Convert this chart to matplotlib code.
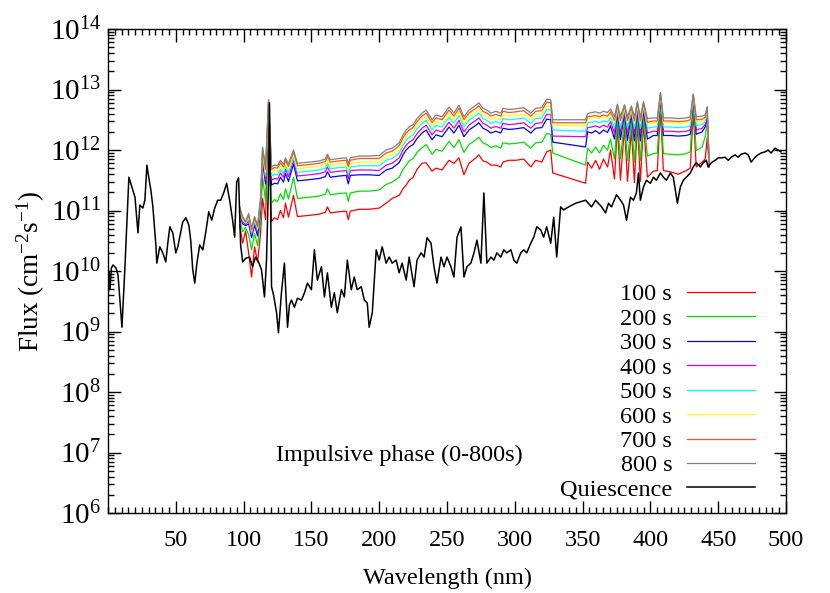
import numpy as np
import matplotlib
matplotlib.use("Agg")
import matplotlib.pyplot as plt
from matplotlib.ticker import MultipleLocator, LogLocator, NullFormatter, FixedLocator

# Quiescent spectrum: wavelength (nm) and log10 flux (cm^-2 s^-1)
q_wl = [0.0, 0.8, 1.5, 2.5, 3.7, 5.9, 7.4, 10.3, 12.5, 14.7, 15.4, 17.6, 19.9, 22.1, 23.5,
        25.7, 27.2, 28.7, 30.1, 31.6, 33.1, 35.3, 36.0, 38.2, 40.4, 42.6, 44.1, 45.6, 47.8,
        50.0, 51.5, 52.9, 55.1, 57.4, 59.6, 61.0, 62.5, 64.0, 65.4, 67.6, 69.9, 72.1, 74.3,
        76.5, 78.7, 80.9, 83.1, 85.3, 87.5, 89.7, 91.9, 93.4, 94.9, 96.3, 97.8, 99.3, 101.5,
        104.4, 106.6, 108.8, 111.0, 113.2, 115.4, 116.9, 118.4, 119.1, 120.6, 122.1, 124.3,
        125.7, 127.9, 130.1, 132.4, 133.8, 135.3, 137.5, 139.7, 142.7, 144.9, 147.1, 150.0,
        152.2, 154.4, 157.4, 159.6, 161.8, 164.7, 166.9, 169.1, 172.1, 174.3, 176.5, 179.4,
        181.6, 183.8, 186.8, 189.0, 191.2, 192.6, 194.9, 197.8, 200.0, 202.2, 205.1, 207.4,
        209.6, 212.5, 214.7, 216.9, 219.9, 222.1, 225.7, 227.9, 230.9, 233.1, 235.3, 238.2,
        240.4, 242.6, 245.6, 247.8, 250.0, 252.9, 255.1, 257.4, 260.3, 262.5, 264.7, 267.6,
        269.9, 272.1, 275.0, 277.2, 279.4, 282.4, 284.6, 286.8, 289.7, 291.9, 294.1, 297.1,
        299.3, 301.5, 304.4, 306.6, 308.8, 311.8, 314.0, 316.2, 319.1, 321.3, 323.5, 326.5,
        328.7, 330.9, 333.8, 336.0, 339.7, 344.9, 352.2, 356.6, 359.6, 364.0, 366.9, 369.1,
        371.3, 375.0, 378.0, 380.2, 382.4, 385.3, 387.5, 389.7, 391.2, 392.6, 394.9, 397.1,
        400.0, 402.2, 404.4, 407.4, 409.6, 411.8, 414.7, 416.9, 419.9, 422.1, 424.3, 426.5,
        429.4, 431.6, 433.8, 436.8, 439.0, 441.2, 442.6, 444.9, 447.8, 450.0, 452.2, 455.1,
        457.4, 459.6, 462.5, 464.7, 466.9, 469.9, 472.1, 474.3, 477.2, 479.4, 481.6, 484.6,
        486.8, 489.0, 491.9, 494.1, 496.3]
q_log = [9.45, 10.00, 9.70, 10.05, 10.10, 10.05, 9.93, 9.07, 10.07, 11.17, 11.55, 11.39, 11.22,
         10.63, 11.09, 11.04, 11.17, 11.75, 11.54, 11.34, 11.06, 10.43, 10.13, 10.40, 10.30,
         10.15, 10.46, 10.73, 10.63, 10.30, 10.40, 10.56, 10.81, 10.88, 10.76, 10.51, 10.02,
         9.80, 10.10, 10.43, 10.35, 10.64, 10.98, 10.84, 11.04, 11.17, 11.17, 11.29, 11.45,
         11.17, 10.84, 10.56, 11.47, 11.54, 10.43, 10.15, 10.21, 10.23, 10.07, 10.23, 10.15,
         10.02, 9.57, 10.18, 11.50, 12.78, 9.74, 9.60, 9.31, 8.98, 9.64, 10.13, 9.07, 9.44,
         9.52, 9.40, 9.55, 9.52, 9.64, 9.80, 9.69, 10.35, 9.85, 10.07, 9.57, 9.97, 9.40, 9.64,
         9.31, 9.69, 9.57, 10.18, 9.69, 9.90, 9.69, 9.74, 9.52, 9.47, 9.07, 9.31, 10.35, 10.18,
         10.40, 10.13, 10.23, 10.13, 10.18, 9.97, 10.13, 9.85, 10.23, 9.74, 10.18, 10.30, 10.23,
         10.55, 10.46, 10.07, 9.80, 10.23, 10.07, 10.23, 10.07, 9.90, 10.56, 10.73, 9.90, 10.07,
         10.13, 10.30, 10.51, 10.13, 11.29, 10.13, 10.23, 10.18, 10.30, 10.23, 10.35, 10.30,
         10.35, 10.18, 10.13, 10.30, 10.35, 10.30, 10.46, 10.56, 10.73, 10.68, 10.56, 10.73,
         10.46, 10.89, 10.23, 11.06, 11.01, 11.06, 11.12, 11.17, 11.06, 11.17, 11.06, 10.96,
         11.12, 11.06, 11.26, 11.17, 11.09, 10.84, 11.22, 11.17, 11.29, 11.62, 11.17, 11.39,
         11.50, 11.45, 11.55, 11.50, 11.62, 11.55, 11.50, 11.62, 11.55, 11.12, 11.39, 11.50,
         11.55, 11.62, 11.72, 11.79, 11.72, 11.79, 11.83, 11.72, 11.79, 11.83, 11.87, 11.87,
         11.88, 11.83, 11.88, 11.92, 11.88, 11.93, 11.95, 11.92, 11.80, 11.88, 11.92, 11.95,
         11.97, 12.00, 11.95, 12.03, 12.00, 11.97]

# Flare spectra (impulsive phase), shared wavelength grid (nm), log10 flux
f_wl = [97.1, 99.3, 101.5, 103.7, 105.9, 108.1, 110.3, 112.5, 114.0, 116.2, 118.4, 120.6,
        122.8, 125.0, 127.2, 129.4, 130.9, 133.1, 136.8, 139.7, 148.5, 155.9, 160.3, 161.8,
        164.0, 170.6, 175.7, 177.2, 178.7, 185.3, 192.6, 200.0, 205.1, 209.6, 214.7, 217.6,
        219.9, 222.1, 225.0, 227.9, 231.6, 234.6, 239.0, 241.9, 246.3, 251.5, 255.1, 258.8,
        262.5, 266.2, 271.3, 273.5, 276.5, 279.4, 282.4, 286.0, 289.7, 291.2, 295.6, 300.7,
        306.6, 311.8, 315.4, 319.9, 323.5, 326.5, 328.0, 352.2, 353.7, 356.6, 359.6, 362.5,
        365.4, 368.4, 370.6, 373.5, 375.7, 377.9, 380.9, 383.1, 386.0, 388.2, 390.4, 392.6,
        394.9, 397.8, 402.2, 405.1, 407.4, 409.6, 414.7, 420.6, 426.5, 429.4, 431.6, 433.8,
        438.2, 440.4, 441.9, 443.4]

f100 = [10.76, 10.46, 10.66, 10.30, 9.90, 10.40, 10.15, 10.62, 11.20, 10.85, 12.55, 10.82,
        10.88, 10.85, 11.00, 10.88, 11.12, 10.89, 11.25, 10.90, 10.92, 10.94, 10.97, 11.06,
        10.96, 10.98, 10.99, 10.85, 10.99, 11.02, 11.02, 11.04, 11.12, 11.20, 11.25, 11.36,
        11.42, 11.50, 11.55, 11.68, 11.78, 11.79, 11.65, 11.70, 11.67, 11.83, 11.78, 11.87,
        11.59, 11.78, 11.87, 11.92, 11.82, 11.80, 11.75, 11.75, 11.72, 11.80, 11.83, 11.83,
        11.85, 11.72, 11.83, 11.80, 11.97, 12.00, 11.62, 11.45, 11.80, 11.70, 11.83, 11.68,
        11.85, 11.72, 12.00, 11.52, 12.40, 11.50, 12.38, 11.48, 12.35, 11.46, 12.45, 11.48,
        12.45, 11.55, 11.65, 11.66, 12.65, 11.66, 11.64, 11.60, 11.66, 11.70, 12.63, 11.72,
        11.80, 11.85, 12.20, 11.72]
f200 = [10.85, 10.65, 10.72, 10.60, 10.35, 10.62, 10.42, 10.85, 11.55, 11.15, 12.68, 11.12,
        11.18, 11.15, 11.28, 11.18, 11.36, 11.19, 11.55, 11.20, 11.22, 11.24, 11.27, 11.36,
        11.26, 11.28, 11.29, 11.15, 11.29, 11.32, 11.32, 11.34, 11.43, 11.47, 11.55, 11.68,
        11.75, 11.82, 11.86, 11.96, 12.04, 12.09, 11.93, 12.01, 11.98, 12.14, 12.04, 12.17,
        11.96, 12.09, 12.17, 12.21, 12.12, 12.09, 12.04, 12.07, 12.03, 12.12, 12.10, 12.11,
        12.13, 12.03, 12.12, 12.13, 12.27, 12.26, 11.95, 11.75, 12.03, 11.95, 12.05, 11.95,
        12.08, 12.00, 12.18, 11.85, 12.52, 11.85, 12.50, 11.82, 12.48, 11.80, 12.56, 11.82,
        12.56, 11.90, 11.94, 11.95, 12.78, 11.94, 11.93, 11.92, 11.94, 11.97, 12.76, 11.99,
        12.05, 12.22, 12.45, 11.72]
f300 = [10.94, 10.78, 10.75, 10.78, 10.55, 10.76, 10.58, 11.02, 11.80, 11.44, 12.76, 11.42,
        11.45, 11.44, 11.55, 11.47, 11.61, 11.48, 11.77, 11.49, 11.51, 11.53, 11.56, 11.64,
        11.55, 11.57, 11.58, 11.44, 11.58, 11.59, 11.59, 11.58, 11.67, 11.70, 11.79, 11.92,
        12.00, 12.05, 12.09, 12.19, 12.28, 12.33, 12.17, 12.25, 12.22, 12.38, 12.28, 12.41,
        12.22, 12.33, 12.41, 12.45, 12.36, 12.33, 12.28, 12.31, 12.28, 12.36, 12.34, 12.35,
        12.37, 12.28, 12.36, 12.37, 12.51, 12.50, 12.13, 12.05, 12.30, 12.28, 12.32, 12.27,
        12.33, 12.29, 12.40, 12.18, 12.62, 12.17, 12.61, 12.16, 12.59, 12.15, 12.66, 12.15,
        12.66, 12.18, 12.24, 12.24, 12.86, 12.24, 12.24, 12.23, 12.24, 12.26, 12.84, 12.26,
        12.30, 12.38, 12.58, 11.72]
f400 = [10.97, 10.81, 10.77, 10.83, 10.60, 10.80, 10.64, 11.08, 11.88, 11.51, 12.78, 11.50,
        11.53, 11.52, 11.62, 11.55, 11.68, 11.56, 11.83, 11.57, 11.59, 11.61, 11.64, 11.72,
        11.63, 11.65, 11.66, 11.53, 11.66, 11.67, 11.67, 11.66, 11.75, 11.78, 11.87, 12.00,
        12.08, 12.13, 12.17, 12.27, 12.36, 12.41, 12.25, 12.33, 12.30, 12.46, 12.36, 12.49,
        12.30, 12.41, 12.49, 12.53, 12.44, 12.41, 12.36, 12.39, 12.36, 12.44, 12.42, 12.43,
        12.45, 12.36, 12.44, 12.45, 12.59, 12.58, 12.23, 12.22, 12.37, 12.38, 12.40, 12.37,
        12.41, 12.38, 12.47, 12.28, 12.66, 12.28, 12.65, 12.28, 12.63, 12.27, 12.70, 12.27,
        12.70, 12.28, 12.31, 12.31, 12.89, 12.31, 12.31, 12.30, 12.31, 12.33, 12.87, 12.33,
        12.36, 12.42, 12.62, 11.72]
f500 = [11.00, 10.84, 10.79, 10.87, 10.63, 10.83, 10.68, 11.12, 11.93, 11.57, 12.80, 11.57,
        11.60, 11.59, 11.68, 11.61, 11.74, 11.62, 11.88, 11.63, 11.65, 11.67, 11.70, 11.78,
        11.69, 11.71, 11.72, 11.60, 11.72, 11.74, 11.74, 11.74, 11.83, 11.86, 11.95, 12.08,
        12.16, 12.21, 12.25, 12.35, 12.44, 12.49, 12.33, 12.41, 12.38, 12.54, 12.44, 12.57,
        12.38, 12.49, 12.57, 12.61, 12.52, 12.49, 12.44, 12.47, 12.44, 12.52, 12.50, 12.51,
        12.53, 12.44, 12.52, 12.53, 12.67, 12.66, 12.33, 12.31, 12.45, 12.46, 12.47, 12.45,
        12.48, 12.46, 12.54, 12.37, 12.69, 12.37, 12.68, 12.37, 12.66, 12.36, 12.73, 12.36,
        12.73, 12.36, 12.38, 12.38, 12.91, 12.38, 12.38, 12.37, 12.38, 12.40, 12.89, 12.40,
        12.42, 12.47, 12.65, 11.72]
f600 = [11.02, 10.86, 10.80, 10.90, 10.66, 10.86, 10.71, 11.15, 11.98, 11.63, 12.81, 11.63,
        11.66, 11.65, 11.74, 11.67, 11.79, 11.68, 11.93, 11.69, 11.71, 11.73, 11.76, 11.84,
        11.75, 11.77, 11.78, 11.67, 11.78, 11.80, 11.80, 11.80, 11.89, 11.92, 12.01, 12.14,
        12.22, 12.27, 12.31, 12.41, 12.50, 12.55, 12.39, 12.47, 12.44, 12.60, 12.50, 12.63,
        12.44, 12.55, 12.63, 12.67, 12.58, 12.55, 12.50, 12.53, 12.50, 12.58, 12.56, 12.57,
        12.59, 12.50, 12.58, 12.59, 12.73, 12.72, 12.41, 12.40, 12.52, 12.53, 12.54, 12.52,
        12.55, 12.53, 12.60, 12.45, 12.72, 12.45, 12.71, 12.45, 12.69, 12.44, 12.76, 12.44,
        12.76, 12.43, 12.45, 12.45, 12.93, 12.45, 12.45, 12.44, 12.45, 12.47, 12.91, 12.47,
        12.48, 12.52, 12.68, 11.72]
f700 = [11.04, 10.88, 10.81, 10.93, 10.68, 10.88, 10.73, 11.18, 12.02, 11.68, 12.82, 11.68,
        11.71, 11.70, 11.79, 11.72, 11.83, 11.73, 11.97, 11.74, 11.76, 11.78, 11.81, 11.89,
        11.80, 11.82, 11.83, 11.73, 11.83, 11.86, 11.86, 11.86, 11.95, 11.98, 12.07, 12.20,
        12.28, 12.33, 12.37, 12.47, 12.56, 12.61, 12.45, 12.53, 12.50, 12.66, 12.56, 12.69,
        12.50, 12.61, 12.69, 12.73, 12.64, 12.61, 12.56, 12.59, 12.56, 12.64, 12.62, 12.63,
        12.65, 12.56, 12.64, 12.65, 12.79, 12.78, 12.45, 12.45, 12.55, 12.56, 12.57, 12.55,
        12.58, 12.56, 12.63, 12.49, 12.74, 12.49, 12.73, 12.49, 12.71, 12.48, 12.78, 12.48,
        12.78, 12.46, 12.48, 12.48, 12.94, 12.48, 12.48, 12.47, 12.48, 12.50, 12.92, 12.50,
        12.51, 12.54, 12.70, 11.72]
f800 = [11.06, 10.90, 10.82, 10.95, 10.70, 10.90, 10.75, 11.20, 12.05, 11.72, 12.83, 11.72,
        11.75, 11.74, 11.83, 11.76, 11.87, 11.77, 12.00, 11.78, 11.80, 11.82, 11.85, 11.93,
        11.84, 11.86, 11.87, 11.78, 11.87, 11.90, 11.90, 11.91, 12.00, 12.03, 12.12, 12.25,
        12.33, 12.38, 12.42, 12.52, 12.61, 12.66, 12.50, 12.58, 12.55, 12.71, 12.61, 12.74,
        12.55, 12.66, 12.74, 12.78, 12.69, 12.66, 12.61, 12.64, 12.61, 12.69, 12.67, 12.68,
        12.70, 12.61, 12.69, 12.70, 12.84, 12.83, 12.50, 12.50, 12.60, 12.62, 12.63, 12.61,
        12.64, 12.62, 12.68, 12.55, 12.76, 12.55, 12.75, 12.55, 12.73, 12.54, 12.80, 12.54,
        12.80, 12.52, 12.53, 12.53, 12.95, 12.53, 12.53, 12.52, 12.53, 12.55, 12.93, 12.55,
        12.56, 12.58, 12.72, 11.72]

labels = ["100 s", "200 s", "300 s", "400 s", "500 s", "600 s", "700 s", "800 s"]
colors = ["#ff0000", "#00e000", "#0000ff", "#e000e0", "#00ffff", "#ffff00", "#ff5020", "#808080"]
y_decades = [1e6, 1e7, 1e8, 1e9, 1e10, 1e11, 1e12, 1e13, 1e14]

plt.rcParams["font.family"] = "Liberation Serif"
plt.rcParams["mathtext.fontset"] = "custom"
plt.rcParams["mathtext.rm"] = "Liberation Serif"
plt.rcParams["mathtext.it"] = "Liberation Serif:italic"
plt.rcParams["font.size"] = 17.5

fig = plt.figure(figsize=(8.3, 5.93), dpi=100)
ax = fig.add_axes([108 / 830, 80 / 593, 678 / 830, 484 / 593])

flare = [f100, f200, f300, f400, f500, f600, f700, f800]
for vals, lab, col in zip(flare, labels, colors):
    ax.plot(f_wl, 10 ** np.array(vals), color=col, lw=0.9, label=lab)
ax.plot(q_wl, 10 ** np.array(q_log), color="black", lw=1.1, label="Quiescence")

ax.set_yscale("log")
ax.set_xlim(0, 500)
ax.set_ylim(1e6, 1e14)
ax.set_xticks(np.arange(50, 501, 50))
ax.xaxis.set_minor_locator(MultipleLocator(5))
ax.yaxis.set_major_locator(FixedLocator(y_decades))
ax.yaxis.set_minor_locator(LogLocator(base=10, subs=np.arange(2, 10), numticks=20))
ax.yaxis.set_minor_formatter(NullFormatter())
ax.tick_params(which="both", direction="in", top=True, right=True, width=1)
ax.tick_params(which="major", length=9)
ax.tick_params(which="minor", length=4.5)
ax.tick_params(axis="x", pad=12)
ax.tick_params(axis="y", pad=5, labelsize=21)
for s in ax.spines.values():
    s.set_linewidth(1.0)

ax.set_xlabel("Wavelength (nm)", labelpad=12)
ax.set_ylabel("Flux (cm$^{-2}$s$^{-1}$)", fontsize=19.5, labelpad=2)

ax.text(215, 10 ** 6.96, "Impulsive phase (0-800s)", ha="center", va="center")

ax.legend(loc="lower right", bbox_to_anchor=(0.954, 0.025), frameon=False,
          markerfirst=False, handlelength=2.8, handletextpad=0.6,
          labelspacing=0.1, borderpad=0, borderaxespad=0)

fig.savefig("out.png", dpi=100)
